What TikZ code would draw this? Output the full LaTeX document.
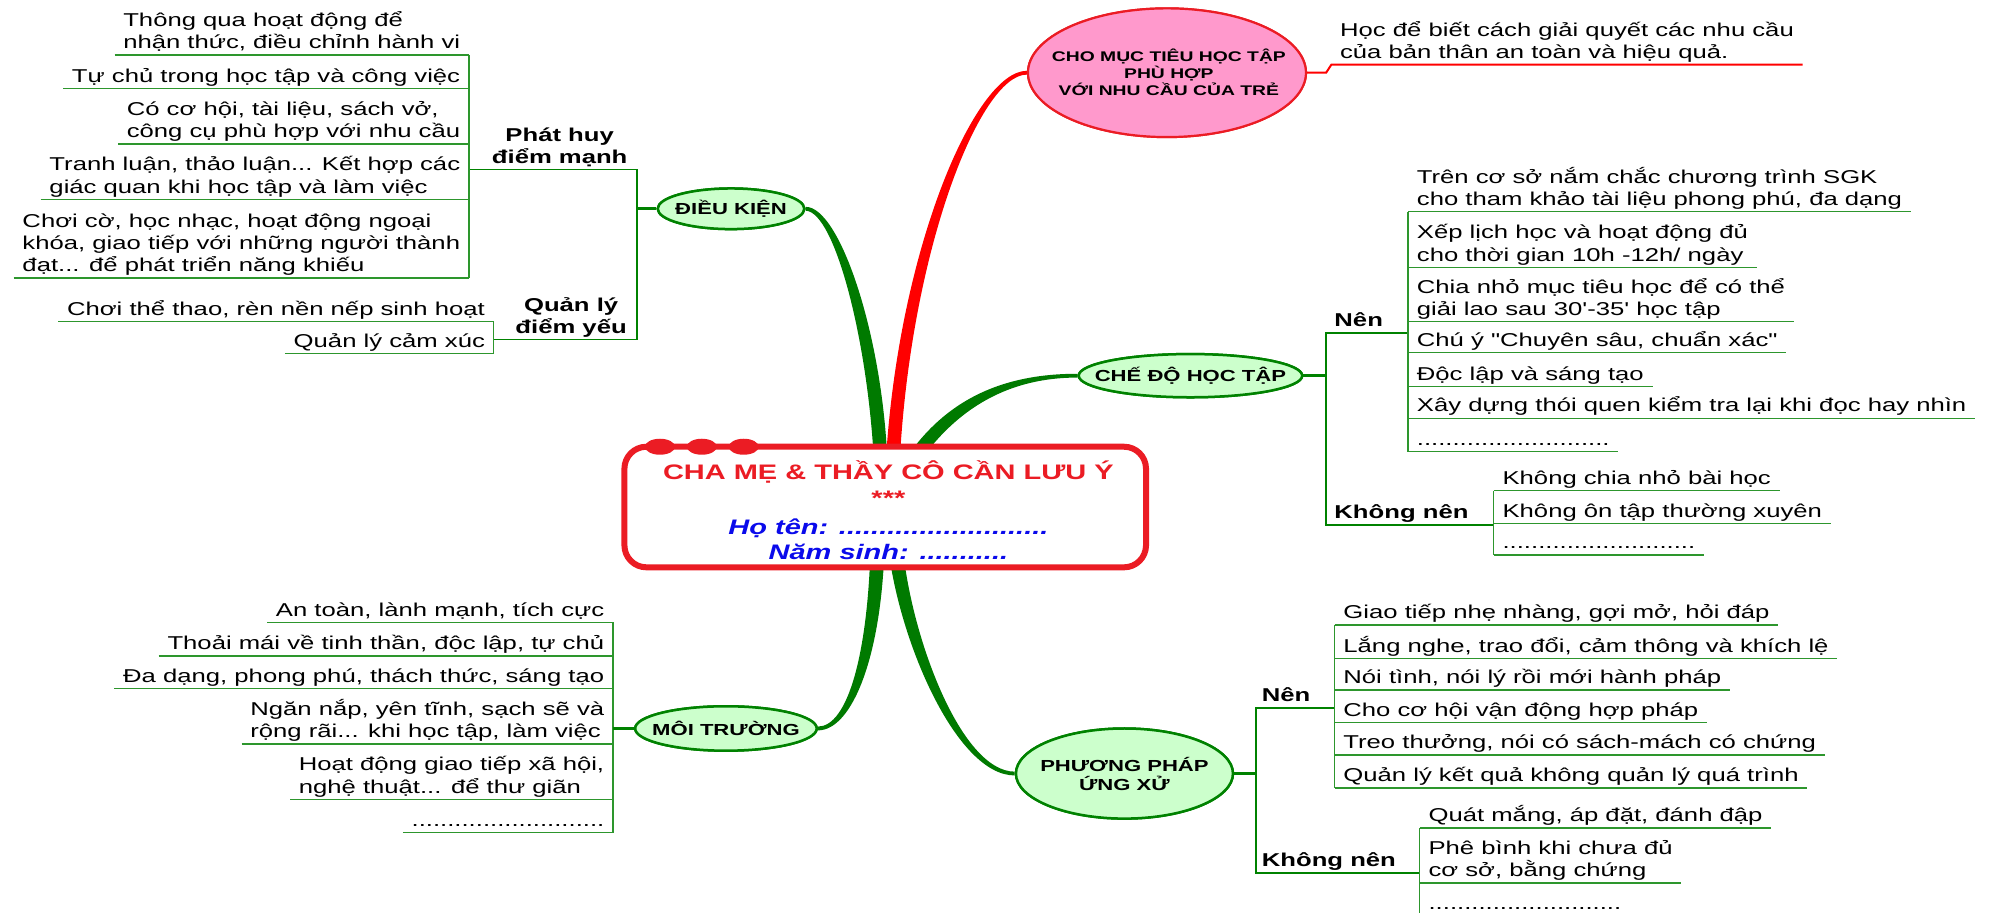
\documentclass[tikz,border=0pt]{standalone}
\usepackage{fontspec}
\setmainfont{Liberation Sans}
\newfontfamily\lf[FakeStretch=1.38]{Liberation Sans}
\usetikzlibrary{shapes.geometric,calc}
\definecolor{brgreen}{RGB}{0,122,0}
\definecolor{elgreen}{RGB}{0,130,0}
\definecolor{elfill}{RGB}{204,255,204}
\definecolor{lfgreen}{RGB}{45,150,45}
\definecolor{brred}{RGB}{255,0,0}
\definecolor{boxred}{RGB}{235,28,36}
\definecolor{pinkfill}{RGB}{255,153,204}
\definecolor{titleblue}{RGB}{10,10,235}
\tikzset{
  leaf/.style={font=\lf\fontsize{18.6}{22.2}\selectfont, align=left, inner xsep=8.6pt, inner ysep=2pt, text depth=4pt},
  lbl/.style={font=\lf\bfseries\fontsize{18.6}{22.2}\selectfont, align=center, inner xsep=8pt, inner ysep=2pt, text depth=4pt},
  uline/.style={draw=lfgreen, line width=1.3pt},
  lline/.style={draw=elgreen, line width=1.8pt},
  tline/.style={draw=elgreen, line width=2.8pt},
  topic/.style={ellipse, draw=elgreen, fill=elfill, line width=2.5pt, inner sep=0pt},
  topictext/.style={font=\lf\bfseries\fontsize{16}{19}\selectfont, align=center, inner sep=0pt},
  ctext/.style={font=\lf\bfseries\fontsize{21}{24}\selectfont, anchor=base, inner sep=0pt},
}
\begin{document}
\begin{tikzpicture}[x=1.26913pt, y=-1.26913pt]
\useasboundingbox (0,0) rectangle (1568,719);

% ---------- topic ellipses (nodes first, so branches can use their anchors)
\node[topic, minimum width=146.6pt, minimum height=40.6pt] (dk) at (576,164.5) {};
\node[topic, minimum width=223.4pt, minimum height=43.2pt] (cd) at (938,296) {};
\node[topic, minimum width=181.5pt, minimum height=44.4pt] (mt) at (572,574) {};
\node[topic, minimum width=217pt, minimum height=90.1pt] (pp) at (886,609.5) {};
\node[ellipse, draw=boxred, fill=pinkfill, line width=2.2pt, minimum width=278pt, minimum height=128.7pt, inner sep=0pt] (mu) at (919.5,57.3) {};

% ---------- tapered branches
\fill[brgreen] ($(dk.east)+(0,-1.5)$) .. controls (662,162.5) and (697,268) .. (699.5,372) -- (689,372) .. controls (685,272) and (658,166.5) .. ($(dk.east)+(0,1.5)$) -- cycle;
\fill[brred] ($(mu.west)+(0,-1.5)$) .. controls (768,55.5) and (706,200) .. (697.5,372) -- (708.5,372) .. controls (716,200) and (772,58.5) .. ($(mu.west)+(0,1.5)$) -- cycle;
\fill[brgreen] ($(cd.west)+(0,-1.5)$) .. controls (788,294.5) and (740,316) .. (707,372) -- (719,372) .. controls (750,324) and (792,297.5) .. ($(cd.west)+(0,1.5)$) -- cycle;
\fill[brgreen] ($(mt.east)+(0,-1.5)$) .. controls (668,572.5) and (684,515) .. (686,428) -- (697,428) .. controls (695,515) and (672,575.5) .. ($(mt.east)+(0,1.5)$) -- cycle;
\fill[brgreen] ($(pp.west)+(0,-1.5)$) .. controls (757,608) and (717,500) .. (711,428) -- (699.5,428) .. controls (707,502) and (753,611) .. ($(pp.west)+(0,1.5)$) -- cycle;

% redraw ellipses on top of branch ends
\node[topic, minimum width=146.6pt, minimum height=40.6pt] at (dk) {};
\node[topic, minimum width=223.4pt, minimum height=43.2pt] at (cd) {};
\node[topic, minimum width=181.5pt, minimum height=44.4pt] at (mt) {};
\node[topic, minimum width=217pt, minimum height=90.1pt] at (pp) {};
\node[ellipse, draw=boxred, fill=pinkfill, line width=2.2pt, minimum width=278pt, minimum height=128.7pt, inner sep=0pt] at (mu) {};

\node[topictext] (dkt) at (dk) {ĐIỀU KIỆN};
\node[topictext] (cdt) at (cd) {CHẾ ĐỘ HỌC TẬP};
\node[topictext] (mtt) at (mt) {MÔI TRƯỜNG};
\node[topictext] (ppt) at (pp) {PHƯƠNG PHÁP\\ỨNG XỬ};
\node[font=\lf\bfseries\fontsize{14}{17.4}\selectfont, align=center, inner sep=0pt] (mutx) at (921,57) {CHO MỤC TIÊU HỌC TẬP\\PHÙ HỢP\\VỚI NHU CẦU CỦA TRẺ};

% ---------- central box
\node[draw=boxred, line width=6pt, rounded corners=22pt, fill=white, minimum width=521.6pt, minimum height=120.6pt, inner sep=0pt] (ctr) at (697.5,399.5) {};
\node[ellipse, fill=boxred, minimum width=30pt, minimum height=16pt, inner sep=0pt] (dot1) at (520,352) {};
\node[ellipse, fill=boxred, minimum width=30pt, minimum height=16pt, inner sep=0pt] (dot2) at (553,352) {};
\node[ellipse, fill=boxred, minimum width=30pt, minimum height=16pt, inner sep=0pt] (dot3) at (586,352) {};
\node[ctext, text=boxred] (t1) at (700,378) {CHA MẸ \& THẦY CÔ CẦN LƯU Ý};
\node[ctext, text=boxred] (t2) at (700,398) {***};
\node[ctext, text=titleblue, font=\lf\bfseries\itshape\fontsize{21}{24}\selectfont] (t3) at (700,421) {Họ tên: ..........................};
\node[ctext, text=titleblue, font=\lf\bfseries\itshape\fontsize{21}{24}\selectfont] (t4) at (700,441) {Năm sinh: ...........};

% ---------- pink branch leaf
\node[leaf, anchor=south west] (mut) at (1049,51) {Học để biết cách giải quyết các nhu cầu\\của bản thân an toàn và hiệu quả.};
\draw[draw=brred, line width=2pt] (mu.east) -- ++(15,0) -- (mut.south west) -- (mut.south east);

% ---------- ĐIỀU KIỆN group
\node[leaf, anchor=south east] (dk1) at (369.5,43.3) {Thông qua hoạt động để\\nhận thức, điều chỉnh hành vi};
\node[leaf, anchor=south east] (dk2) at (369.5,69.6) {Tự chủ trong học tập và công việc};
\node[leaf, anchor=south east] (dk3) at (369.5,113.5) {Có cơ hội, tài liệu, sách vở,\\công cụ phù hợp với nhu cầu};
\node[leaf, anchor=south east] (dk4) at (369.5,157) {Tranh luận, thảo luận... Kết hợp các\\giác quan khi học tập và làm việc};
\node[leaf, anchor=south east] (dk5) at (369.5,219) {Chơi cờ, học nhạc, hoạt động ngoại\\khóa, giao tiếp với những người thành\\đạt... để phát triển năng khiếu};
\node[leaf, anchor=south east] (q1) at (389,253.5) {Chơi thể thao, rèn nền nếp sinh hoạt};
\node[leaf, anchor=south east] (q2) at (389,278.5) {Quản lý cảm xúc};
\node[lbl, anchor=south] (phl) at (441,133.5) {Phát huy\\điểm mạnh};
\node[lbl, anchor=south] (qll) at (450,267.5) {Quản lý\\điểm yếu};
\coordinate (phA) at (369.5,133.5);
\coordinate (phB) at (502,133.5);
\coordinate (qlA) at (389,267.5);
\coordinate (qlB) at (502,267.5);
\draw[lline] (phA) -- (phB) -- (qlB) -- (qlA);
\draw[tline] (dk.west) -- (dk.west -| phB);
\draw[uline] (dk1.south east) -- (dk5.south east);
\draw[uline] (q1.south east) -- (q2.south east);

% ---------- CHẾ ĐỘ HỌC TẬP group
\coordinate (cnA) at (1045,262.5);
\coordinate (cnB) at (1109.5,262.5);
\coordinate (ckA) at (1045,413.7);
\coordinate (ckB) at (1177,413.7);
\node[lbl, anchor=south west] (cnl) at (cnA) {Nên};
\node[lbl, anchor=south west] (ckl) at (ckA) {Không nên};
\draw[lline] (cnB) -- (cnA) -- (ckA) -- (ckB);
\draw[tline] (cd.east) -- (cd.east -| cnA);
\node[leaf, anchor=south west] (c1) at (1109.5,166.8) {Trên cơ sở nắm chắc chương trình SGK\\cho tham khảo tài liệu phong phú, đa dạng};
\node[leaf, anchor=south west] (c2) at (1109.5,210.6) {Xếp lịch học và hoạt động đủ\\cho thời gian 10h -12h/ ngày};
\node[leaf, anchor=south west] (c3) at (1109.5,253.5) {Chia nhỏ mục tiêu học để có thể\\giải lao sau 30'-35' học tập};
\node[leaf, anchor=south west] (c4) at (1109.5,278) {Chú ý "Chuyên sâu, chuẩn xác"};
\node[leaf, anchor=south west] (c5) at (1109.5,304.7) {Độc lập và sáng tạo};
\node[leaf, anchor=south west] (c6) at (1109.5,329.5) {Xây dựng thói quen kiểm tra lại khi đọc hay nhìn};
\node[leaf, anchor=south west] (c7) at (1109.5,355.9) {...........................};
\node[leaf, anchor=south west] (k1) at (1177,386.6) {Không chia nhỏ bài học};
\node[leaf, anchor=south west] (k2) at (1177,412.3) {Không ôn tập thường xuyên};
\node[leaf, anchor=south west] (k3) at (1177,437.3) {...........................};
\draw[uline] (c1.south west) -- (c7.south west);
\draw[uline] (k1.south west) -- (k3.south west);

% ---------- MÔI TRƯỜNG group
\node[leaf, anchor=south east] (m1) at (483,490.4) {An toàn, lành mạnh, tích cực};
\node[leaf, anchor=south east] (m2) at (483,516.9) {Thoải mái về tinh thần, độc lập, tự chủ};
\node[leaf, anchor=south east] (m3) at (483,542.4) {Đa dạng, phong phú, thách thức, sáng tạo};
\node[leaf, anchor=south east] (m4) at (483,586.2) {Ngăn nắp, yên tĩnh, sạch sẽ và\\rộng rãi... khi học tập, làm việc};
\node[leaf, anchor=south east] (m5) at (483,629.8) {Hoạt động giao tiếp xã hội,\\nghệ thuật... để thư giãn};
\node[leaf, anchor=south east] (m6) at (483,656.1) {...........................};
\draw[uline] (m1.south east) -- (m6.south east);
\draw[tline] (mt.west) -- (mt.west -| m1.south east);

% ---------- PHƯƠNG PHÁP ỨNG XỬ group
\coordinate (pnA) at (989.4,558);
\coordinate (pnB) at (1051.6,558);
\coordinate (pkA) at (989.4,688);
\coordinate (pkB) at (1118.7,688);
\node[lbl, anchor=south west, inner xsep=6pt] (pnl) at (pnA) {Nên};
\node[lbl, anchor=south west, inner xsep=6pt] (pkl) at (pkA) {Không nên};
\draw[lline] (pnB) -- (pnA) -- (pkA) -- (pkB);
\draw[tline] (pp.east) -- (pp.east -| pnA);
\node[leaf, anchor=south west] (p1) at (1051.6,492.5) {Giao tiếp nhẹ nhàng, gợi mở, hỏi đáp};
\node[leaf, anchor=south west] (p2) at (1051.6,518.7) {Lắng nghe, trao đổi, cảm thông và khích lệ};
\node[leaf, anchor=south west] (p3) at (1051.6,543.7) {Nói tình, nói lý rồi mới hành pháp};
\node[leaf, anchor=south west] (p4) at (1051.6,569.4) {Cho cơ hội vận động hợp pháp};
\node[leaf, anchor=south west] (p5) at (1051.6,594.9) {Treo thưởng, nói có sách-mách có chứng};
\node[leaf, anchor=south west] (p6) at (1051.6,621) {Quản lý kết quả không quản lý quá trình};
\node[leaf, anchor=south west] (r1) at (1118.7,652.5) {Quát mắng, áp đặt, đánh đập};
\node[leaf, anchor=south west] (r2) at (1118.7,695.8) {Phê bình khi chưa đủ\\cơ sở, bằng chứng};
\node[leaf, anchor=south west] (r3) at (1118.7,721.5) {...........................};
\draw[uline] (p1.south west) -- (p6.south west);
\draw[uline] (r1.south west) -- (r3.south west);

% ---------- leaf underlines
\foreach \n in {dk1,dk2,dk3,dk4,dk5,q1,q2,c1,c2,c3,c4,c5,c6,c7,k1,k2,k3,m1,m2,m3,m4,m5,m6,p1,p2,p3,p4,p5,p6,r1,r2,r3}
  \draw[uline] (\n.south west) -- (\n.south east);
\end{tikzpicture}
\end{document}
